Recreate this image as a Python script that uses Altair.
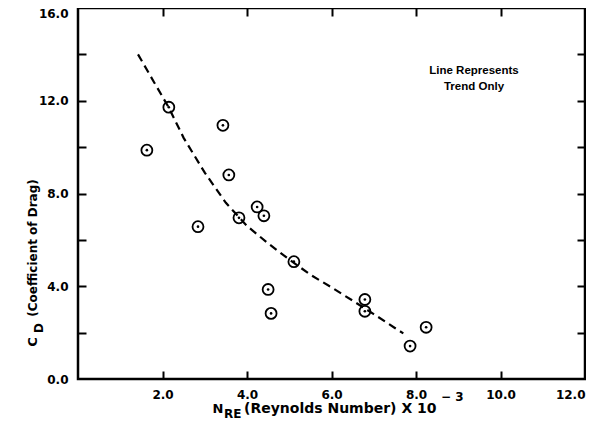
import altair as alt
import pandas as pd

# Data
re_vals = [1.63, 2.15, 3.43, 2.84, 3.57, 3.81, 4.24, 4.40, 5.11, 4.50, 4.57, 6.79, 6.79, 7.86, 8.24]
cd_vals = [9.87, 11.72, 10.94, 6.57, 8.80, 6.95, 7.42, 7.04, 5.06, 3.86, 2.83, 3.43, 2.92, 1.42, 2.23]

trend_re = [1.42, 1.8, 2.15, 2.5, 3.0, 3.5, 4.0, 4.5, 5.0, 5.5, 6.0, 6.5, 7.0, 7.5, 7.7]
trend_cd = [14.0, 12.8, 11.7, 10.4, 8.9, 7.6, 6.6, 5.85, 5.15, 4.5, 3.95, 3.38, 2.8, 2.2, 1.97]

x_label_values = [2, 4, 6, 8, 10, 12]
x_tick_values = [2, 4, 6, 8, 10]
y_label_values = [0, 4, 8, 12, 16]
y_tick_values = [2, 4, 6, 8, 10, 12, 14]

FONT = "DejaVu Sans"
NOTE_FONT = "Liberation Sans"

pts = pd.DataFrame({"re": re_vals, "cd": cd_vals})
trend = pd.DataFrame({"re": trend_re, "cd": trend_cd})
one = pd.DataFrame({"k": [0]})

xs = alt.Scale(domain=[0, 12], nice=False, zero=False)
ys = alt.Scale(domain=[0, 16], nice=False, zero=False)

lab_common = dict(grid=False, domain=False, ticks=False, tickSize=0, title=None,
                  labelFont=FONT, labelFontSize=12, labelFontWeight="bold",
                  labelColor="black", format=".1f")
tick_common = dict(grid=False, domain=False, labels=False, ticks=True, title=None,
                   tickSize=8, tickWidth=2, tickColor="black", offset=-8)

ax_x_lab = alt.Axis(orient="bottom", values=x_label_values, labelPadding=10, **lab_common)
ax_y_lab = alt.Axis(orient="left", values=y_label_values, labelPadding=10,
                    labelBaseline={"condition": {"test": "datum.value == 16", "value": "top"},
                                   "value": "middle"},
                    **lab_common)
ax_x_bot = alt.Axis(orient="bottom", values=x_tick_values, **tick_common)
ax_y_left = alt.Axis(orient="left", values=y_tick_values, **tick_common)
ax_x_top = alt.Axis(orient="top", values=x_tick_values, **tick_common)
ax_y_right = alt.Axis(orient="right", values=y_tick_values, **tick_common)

line = alt.Chart(trend).mark_line(color="black", strokeWidth=2.2, strokeDash=[8, 5]).encode(
    x=alt.X("re:Q", scale=xs, axis=ax_x_top),
    y=alt.Y("cd:Q", scale=ys, axis=ax_y_right),
    order=alt.Order("re:Q"),
)
circles = alt.Chart(pts).mark_point(shape="circle", size=120, filled=False, stroke="black",
                                    strokeWidth=1.8, opacity=1).encode(
    x=alt.X("re:Q", scale=xs, axis=ax_x_lab),
    y=alt.Y("cd:Q", scale=ys, axis=ax_y_lab),
)
dots = alt.Chart(pts).mark_point(shape="circle", size=7, filled=True, color="black", opacity=1).encode(
    x=alt.X("re:Q", scale=xs, axis=ax_x_bot),
    y=alt.Y("cd:Q", scale=ys, axis=ax_y_left),
)


def label(text, x, y, size=13, angle=0, align="center", baseline="middle", font=FONT):
    return alt.Chart(one).mark_text(
        text=text, font=font, fontSize=size, fontWeight="bold", color="black",
        angle=angle, align=align, baseline=baseline).encode(
        x=alt.value(x), y=alt.value(y))


texts = [
    label("Line Represents", 396, 63, size=11.5, font=NOTE_FONT),
    label("Trend Only", 396, 79, size=11.5, font=NOTE_FONT),
    # x axis title: N_RE (Reynolds Number) X 10^-3
    label("N", 140, 401, size=13),
    label("RE", 146, 406, size=12, align="left"),
    label("(Reynolds Number) X 10", 166, 401, size=14, align="left"),
    label("\u2212 3", 363, 389, size=12, align="left"),
    # y axis title: C_D (Coefficient of Drag)
    label("C", -45, 334, size=13, angle=270),
    label("D", -39, 320, size=12, angle=270),
    label("(Coefficient of Drag)", -45, 240, size=12, angle=270),
]

chart = alt.layer(line, circles, dots, *texts).resolve_axis(
    x="independent", y="independent"
).properties(
    width=507, height=371,
    autosize=alt.AutoSizeParams(type="none"),
    padding={"left": 70, "top": 0, "right": 1, "bottom": 51},
    background="white",
).configure_view(stroke="black", strokeWidth=2.5)

chart.save("out.html", embed_options={"renderer": "svg", "actions": False})
